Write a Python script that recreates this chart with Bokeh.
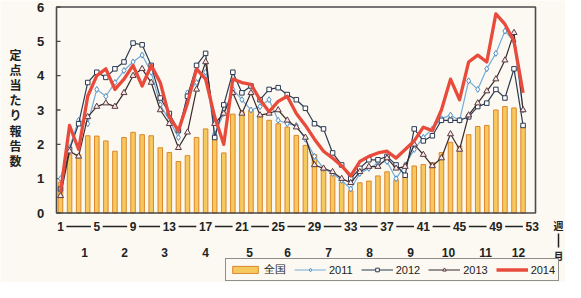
from bokeh.plotting import figure
from bokeh.models import ColumnDataSource, Range1d, Legend, LegendItem
from bokeh.core.properties import value
from bokeh.embed import file_html
from bokeh.resources import INLINE

# ---------------- data ----------------
weeks = list(range(1, 53))
national = [0.9, 1.7, 1.7, 2.25, 2.24, 2.1, 1.8, 2.2, 2.35, 2.28,
            2.25, 1.9, 1.76, 1.5, 1.67, 2.2, 2.45, 2.2, 1.75, 2.88,
            2.95, 3.0, 2.85, 2.7, 2.6, 2.5, 2.26, 1.97, 1.7, 1.3,
            1.1, 0.9, 0.65, 0.88, 0.93, 1.08, 1.2, 0.97, 1.05, 1.37,
            1.41, 1.47, 1.76, 2.06, 1.95, 2.28, 2.52, 2.55, 3.0, 3.1,
            3.06, 2.55]
y2011 = [1.0, 1.9, 2.7, 2.6, 3.6, 3.4, 3.8, 4.15, 4.4, 4.6,
         4.1, 3.15, 2.7, 2.2, 3.5, 3.8, 4.1, 2.3, 2.9, 3.6,
         3.3, 3.0, 3.1, 3.3, 2.7, 2.6, 2.55, 2.15, 1.65, 1.3,
         1.15, 0.95, 0.7, 1.15, 1.3, 1.45, 1.5, 1.0, 1.4, 1.85,
         2.2, 2.45, 2.75, 2.85, 2.7, 3.85, 3.6, 4.2, 4.65, 5.3,
         5.0, 3.0]
y2012 = [0.7, 1.85, 2.6, 3.8, 4.1, 3.95, 4.2, 4.4, 4.95, 4.9,
         4.3, 3.35, 2.9, 2.4, 3.4, 4.3, 4.65, 2.2, 3.15, 4.1,
         3.5, 3.7, 3.3, 3.6, 3.65, 3.45, 3.3, 3.05, 2.6, 2.45,
         1.75, 1.4, 1.0, 1.3, 1.55, 1.55, 1.65, 1.4, 1.1, 2.45,
         2.1, 2.25, 2.7, 2.7, 2.7, 2.8, 3.1, 3.2, 3.6, 3.35,
         4.2, 2.55]
y2013 = [0.5, 1.8, 1.65, 2.8, 3.1, 3.2, 3.1, 3.5, 4.0, 4.2,
         3.8, 3.0, 2.6, 1.9, 2.35, 3.6, 4.4, 2.6, 2.9, 3.5,
         2.9, 3.5, 2.85, 2.9, 3.0, 2.7, 2.5, 2.2, 1.4, 1.3,
         1.2, 1.0, 0.88, 1.2, 1.35, 1.35, 1.6, 1.3, 1.35, 2.0,
         1.7, 1.37, 1.6, 2.3, 1.85, 2.85, 3.2, 3.55, 3.9, 4.45,
         5.25, 3.0]
y2014 = [0.6, 2.55, 1.85, 3.4, 4.0, 4.2, 3.6, 3.9, 4.3, 3.7,
         4.3, 3.8, 2.8, 2.4, 3.2, 4.2, 3.9, 2.8, 2.0, 3.9,
         3.8, 3.75, 3.3, 2.95, 3.25, 3.4, 2.9, 2.55, 2.15, 1.8,
         1.6, 1.37, 1.08, 1.5, 1.65, 1.75, 1.8, 1.6, 1.85, 2.1,
         2.5, 2.4, 3.0, 3.9, 3.3, 4.4, 4.6, 4.4, 5.8, 5.5,
         5.0, 3.5]

week_ticks = [1, 5, 9, 13, 17, 21, 25, 29, 33, 37, 41, 45, 49, 53]
month_labels = ["1", "2", "3", "4", "5", "6", "7", "8", "9", "10", "11", "12"]
month_pos = [3.65, 8.06, 12.47, 16.99, 21.84, 26.03, 30.55, 35.07, 39.59, 43.78, 47.86, 51.5]
y_ticks = [0, 1, 2, 3, 4, 5, 6]
y_title = "定点当たり報告数"
unit_top, unit_bottom = "週", "月"
series_labels = ["全国", "2011", "2012", "2013", "2014"]

# ---------------- layout helpers (page pixel -> data) ----------------
PXW = 9.07     # px per week
PXV = 34.33    # px per unit
X0, X1 = 0.56, 53.37   # chart box in weeks
Y0, Y1 = 0.0, 6.0

def wx(px_page):
    return 1 + (px_page - 68) / PXW

def vy(py_page):
    return (220.5 - py_page) / PXV

BG = "#fbf9f1"
FONT = "Liberation Sans"
CJK = "Noto Sans CJK JP"
INK = "#222222"
FRAME = "#4a4a4a"

p = figure(width=565, height=282,
           x_range=Range1d(wx(8), wx(573)), y_range=Range1d(vy(290), vy(8)),
           output_backend="svg", toolbar_location=None,
           x_axis_location=None, y_axis_location=None,
           min_border_left=0, min_border_right=0, min_border_top=0, min_border_bottom=0,
           background_fill_color=BG, border_fill_color=BG)
p.outline_line_color = None
p.xgrid.visible = False
p.ygrid.visible = False

src = ColumnDataSource(dict(week=weeks, national=national, y2011=y2011, y2012=y2012,
                            y2013=y2013, y2014=y2014))

# bars
r_bar = p.vbar(x="week", top="national", width=0.5, source=src,
               fill_color="#f6c95e", line_color="#dd862c", line_width=1)

# chart box
p.quad(left=[X0], right=[X1], bottom=[Y0], top=[Y1], fill_color=None,
       line_color=FRAME, line_width=1.6)

# y ticks (inward) and labels
tick_len = 4 / PXW
p.segment(x0=[X0] * len(y_ticks), y0=y_ticks, x1=[X0 + tick_len] * len(y_ticks), y1=y_ticks,
          line_color=FRAME, line_width=1.3)
p.text(x=[wx(48)] * len(y_ticks), y=y_ticks, text=[str(t) for t in y_ticks],
       text_font=value(FONT), text_font_style="bold", text_font_size="13px",
       text_color=INK, text_align="center", text_baseline="middle")

# week labels with connecting rules
y_rule = vy(234)
p.text(x=week_ticks, y=[y_rule] * len(week_ticks), text=[str(w) for w in week_ticks],
       text_font=value(FONT), text_font_style="bold", text_font_size="12px",
       text_color=INK, text_align="center", text_baseline="middle")
rx0, rx1 = [], []
for a, b in zip(week_ticks[:-1], week_ticks[1:]):
    rx0.append(a + (3.4 * len(str(a)) + 2.5) / PXW)
    rx1.append(b - (3.4 * len(str(b)) + 2.5) / PXW)
p.segment(x0=rx0, y0=[y_rule] * len(rx0), x1=rx1, y1=[y_rule] * len(rx1),
          line_color=INK, line_width=1.3)

# month labels
p.text(x=month_pos, y=[vy(260)] * len(month_pos), text=month_labels,
       text_font=value(FONT), text_font_style="bold", text_font_size="12px",
       text_color=INK, text_align="center", text_baseline="middle")

# y title, stacked upright characters
p.text(x=[wx(23)] * len(y_title), y=[vy(62 + 15.1 * i) for i in range(len(y_title))],
       text=list(y_title), text_font=value(CJK), text_font_style="bold",
       text_font_size="12px", text_color=INK, text_align="center", text_baseline="middle")

# unit label at right: 週 | 月
p.text(x=[wx(566), wx(566)], y=[vy(233), vy(263)], text=[unit_top, unit_bottom],
       text_font=value(CJK), text_font_style="bold", text_font_size="10px",
       text_color=INK, text_align="center", text_baseline="middle")
p.segment(x0=[wx(566)], y0=[vy(241)], x1=[wx(566)], y1=[vy(255)],
          line_color=INK, line_width=1.5)

# series
l11 = p.line("week", "y2011", source=src, line_color="#74acd9", line_width=1.2)
m11 = p.scatter("week", "y2011", source=src, marker="diamond", size=6,
                fill_color="white", line_color="#4f8cc4", line_width=1)
l12 = p.line("week", "y2012", source=src, line_color="#2c3a52", line_width=1.2)
m12 = p.scatter("week", "y2012", source=src, marker="square", size=4.5,
                fill_color="white", line_color="#2c3a52", line_width=1)
l13 = p.line("week", "y2013", source=src, line_color="#3b2a2c", line_width=1.2)
m13 = p.scatter("week", "y2013", source=src, marker="triangle", size=6,
                fill_color="#f7e8ea", line_color="#5a3a40", line_width=1)
l14 = p.line("week", "y2014", source=src, line_color="#e84a3b", line_width=3.3,
             line_join="round")

legend = Legend(items=[
    LegendItem(label=series_labels[0], renderers=[r_bar]),
    LegendItem(label=series_labels[1], renderers=[l11, m11]),
    LegendItem(label=series_labels[2], renderers=[l12, m12]),
    LegendItem(label=series_labels[3], renderers=[l13, m13]),
    LegendItem(label=series_labels[4], renderers=[l14]),
], orientation="horizontal", location=(225, 1))
legend.label_text_font = FONT
legend.label_text_font_size = "11px"
legend.label_text_color = INK
legend.label_height = 12
legend.glyph_width = 32
legend.glyph_height = 9
legend.label_standoff = 3
legend.spacing = 8
legend.padding = 3
legend.margin = 0
legend.border_line_color = INK
legend.border_line_width = 1.6
legend.background_fill_color = BG
legend.background_fill_alpha = 1.0
p.add_layout(legend, "center")

open("out.html", "w").write(file_html(p, INLINE))
